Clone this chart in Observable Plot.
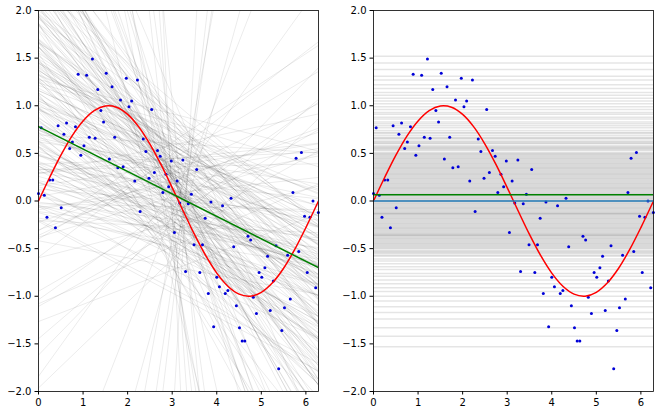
<!DOCTYPE html>
<html><head><meta charset="utf-8">
<script src="https://cdn.jsdelivr.net/npm/d3@7"></script>
<script src="https://cdn.jsdelivr.net/npm/@observablehq/plot@0.6"></script>
<style>
body{margin:0;background:#fff;}
#wrap{display:flex;width:659px;height:415px;overflow:hidden;}
svg{display:block;flex:none;}
</style></head><body><div id="wrap"></div>
<script>
const xs = [0.00,0.06,0.13,0.19,0.25,0.32,0.38,0.44,0.51,0.57,0.63,0.70,0.76,0.83,0.89,0.95,1.02,1.08,1.14,1.21,1.27,1.33,1.40,1.46,1.52,1.59,1.65,1.71,1.78,1.84,1.90,1.97,2.03,2.09,2.16,2.22,2.28,2.35,2.41,2.48,2.54,2.60,2.67,2.73,2.79,2.86,2.92,2.98,3.05,3.11,3.17,3.24,3.30,3.36,3.43,3.49,3.55,3.62,3.68,3.74,3.81,3.87,3.93,4.00,4.06,4.13,4.19,4.25,4.32,4.38,4.44,4.51,4.57,4.63,4.70,4.76,4.82,4.89,4.95,5.01,5.08,5.14,5.20,5.27,5.33,5.39,5.46,5.52,5.59,5.65,5.71,5.78,5.84,5.90,5.97,6.03,6.09,6.16,6.22,6.28];
const ys = [0.08,0.77,0.06,-0.17,0.22,0.22,-0.28,0.79,-0.07,0.70,0.82,0.55,0.62,0.78,1.33,0.48,0.58,1.32,0.67,1.49,0.66,1.17,0.95,0.83,1.34,0.44,1.20,0.67,0.35,1.06,0.36,1.29,0.99,1.05,0.21,1.27,-0.11,0.65,0.52,0.24,0.96,0.30,0.53,0.47,0.09,0.28,0.15,0.42,-0.33,0.21,-0.02,0.43,-0.74,-0.03,0.07,-0.46,0.33,-0.75,-0.46,-0.18,-0.97,-0.01,-1.32,-0.80,-0.90,-0.05,-0.97,-0.94,0.03,-0.48,-1.10,-1.33,-1.47,-1.47,-0.37,-0.41,-1.01,-1.18,-0.75,-0.80,-0.70,-0.58,-1.15,-0.84,-0.47,-1.76,-1.36,-1.12,-0.57,-1.03,0.09,0.45,-0.53,0.51,-0.16,-0.75,-0.17,0.00,-0.91,-0.12];

const sineX = [0,0.25,0.5,0.75,1.0,1.25,1.5,1.75,2.0,2.25,2.5,2.75,3.0,3.25,3.5,3.75,4.0,4.25,4.5,4.75,5.0,5.25,5.5,5.75,6.0,6.283];
const sineY = [0,0.247,0.479,0.682,0.841,0.949,0.997,0.984,0.909,0.778,0.598,0.382,0.141,-0.108,-0.351,-0.572,-0.757,-0.895,-0.978,-0.999,-0.959,-0.859,-0.706,-0.508,-0.279,0.0];

const fitX = [0, 6.283];
const fitY = [0.78, -0.70];
const sampleMean = 0.065;
const trueMean = 0;

const pivotX = 3.14;
const bootSlopes = [-0.24,-0.61,0.12,-0.38,-0.95,-0.05,-0.33,-0.72,0.31,-0.18,
-1.35,-0.44,-0.09,-0.52,0.05,-0.27,-0.83,-0.15,0.22,-0.41,
-0.66,-2.1,-0.30,-0.02,-0.57,-0.21,0.48,-0.36,-1.05,-0.12,
-0.47,-0.78,0.09,-0.26,-0.35,1.2,-0.63,-0.19,-0.90,-0.29,
0.17,-0.55,-0.07,-0.42,-1.6,-0.23,-0.69,0.36,-0.32,-0.14,
-0.50,-3.5,-0.39,0.01,-0.87,-0.25,-0.60,-0.11,0.65,-0.46,
-0.20,-1.18,-0.34,-0.74,0.26,-0.28,-0.04,-0.53,-0.98,-0.16,
2.6,-0.43,-0.31,-0.67,0.14,-0.22,-1.45,-0.58,-0.08,-0.37,
-0.80,0.40,-0.26,-0.49,-0.13,-5.0,-0.64,-0.01,-0.40,-0.92,
0.07,-0.30,-0.56,-0.17,-1.25,-0.45,0.28,-0.71,-0.10,-0.35,
-0.30,-0.15,-0.45,-0.22,-0.60,-0.08,-0.35,0.10,-0.28,-0.50,
-0.19,-0.40,-0.70,-0.26,0.02,-0.33,-0.12,-0.55,-0.24,-0.85,
4.0,-0.31,-0.18,-0.42,0.20,-0.29,-0.65,-0.06,-0.37,-2.8,
-0.21,-0.48,-0.14,-0.34,0.33,-0.27,-0.58,-0.10,-0.39,-1.1,
-0.25,-0.44,3.2,-0.32,-0.16,-0.52,-0.23,-0.76,0.05,-0.36,
-0.20,-0.47,-0.11,-0.30,-6.5,-0.38,-0.17,-0.62,-0.26,0.15,
-0.41,-0.09,-0.33,-0.54,-0.22,-1.9,-0.29,-0.13,-0.46,0.45,
-0.35,-0.19,-0.68,-0.24,-0.03,-0.43,-0.31,-4.2,-0.15,-0.50,
-0.27,0.08,-0.39,-0.21,-0.57,-0.12,-0.34,1.7,-0.28,-0.44,
-0.18,-0.73,-0.25,-0.06,-0.40,-0.32,-1.4,-0.14,-0.49,-0.23,
8.0,-0.37,-0.20,-0.59,0.18,-0.30,-0.11,-0.45,-2.4,-0.26,
-0.16,-0.53,-0.34,0.27,-0.42,-0.21,-0.88,-0.29,-10.0,-0.36];
const bootCenters = [0.07,0.35,-0.22,0.51,-0.05,0.18,-0.41,0.12,0.66,-0.15,
0.02,0.28,-0.33,0.44,0.09,-0.08,0.21,-0.52,0.33,0.01,
0.14,-0.18,0.58,-0.27,0.06,0.39,-0.11,0.25,-0.36,0.10,
0.47,-0.02,0.19,-0.45,0.30,0.04,-0.20,0.72,0.11,-0.30,
0.23,-0.07,0.40,-0.60,0.16,0.03,-0.13,0.54,0.08,-0.24,
0.27,0.05,-0.38,0.36,0.13,-0.04,0.62,-0.16,0.20,-0.48,
0.09,0.31,-0.09,0.45,-0.29,0.15,0.00,0.37,-0.21,0.24,
-0.03,0.50,-0.34,0.17,0.06,-0.12,0.42,0.12,-0.43,0.29,
0.02,-0.19,0.55,0.08,-0.26,0.34,0.14,-0.06,0.22,-0.55,
0.38,0.04,-0.14,0.26,0.11,-0.31,0.48,0.01,-0.10,0.19,
0.55,-0.40,0.20,-0.75,0.85,0.05,-0.25,0.60,-0.55,0.35,
-0.10,0.70,-0.65,0.15,0.45,-0.35,0.90,-0.05,0.30,-0.80,
-0.60,0.40,-0.20,0.65,-0.45,0.10,0.75,-0.30,0.25,-0.90,
0.50,-0.15,0.80,-0.50,0.00,0.60,-0.70,0.35,-0.25,0.95,
-1.00,0.20,-0.40,0.55,-0.10,0.85,-0.60,0.15,0.45,-0.35,
0.70,-0.20,0.30,-0.85,-0.80,0.50,-0.05,0.65,-0.45,0.25,
0.40,-0.70,0.10,0.80,-0.30,-1.10,0.55,-0.15,0.35,-0.55,
0.90,-0.40,0.20,-0.95,0.60,-0.10,0.45,-0.75,0.05,0.75,
-0.25,0.30,-0.65,0.50,0.15,-0.50,0.85,-0.35,0.25,-0.05,
0.65,-0.80,0.40,-0.20,1.00,-0.45,0.10,0.55,-0.60,0.35,
-1.30,0.70,-0.15,0.20,-0.70,0.50,-0.30,0.80,-0.90,0.05,
0.45,-0.40,0.60,-0.10,0.30,-0.55,0.15,0.75,-1.50,-0.25];

const bootMeans = [1.52,1.45,1.38,1.31,1.27,1.22,1.18,1.14,1.11,1.08,1.05,1.02,
0.99,0.96,0.93,0.91,0.88,0.86,0.83,0.81,0.79,0.77,0.74,0.72,0.71,
0.69,0.67,0.65,0.63,0.61,0.60,0.58,0.56,0.55,0.53,0.51,0.50,0.48,0.47,0.45,0.44,0.42,0.41,
0.39,0.38,0.36,0.35,0.34,0.32,0.31,0.30,0.28,0.27,0.26,0.24,0.23,0.22,0.21,0.19,0.18,0.17,0.15,0.14,0.13,0.12,0.11,
0.09,0.08,0.07,0.06,0.05,0.04,0.02,0.01,0.00,-0.01,-0.03,-0.04,-0.05,-0.07,-0.08,-0.09,-0.11,-0.12,-0.14,-0.15,-0.17,-0.18,-0.19,
-0.21,-0.22,-0.24,-0.26,-0.27,-0.29,-0.31,-0.33,-0.34,-0.36,-0.38,-0.40,-0.42,-0.44,-0.46,-0.48,
-0.50,-0.53,-0.55,-0.58,-0.61,-0.63,-0.66,-0.69,-0.72,-0.76,-0.79,
-0.83,-0.87,-0.91,-0.95,-1.00,-1.05,-1.11,-1.17,-1.24,-1.33,-1.42,-1.53,
0.66,0.57,0.49,0.43,0.37,0.33,0.29,0.25,0.20,0.16,0.10,0.03,-0.02,-0.06,-0.10,-0.13,-0.16,-0.20,-0.23,-0.25,
-0.28,-0.30,-0.32,-0.35,-0.37,-0.39,-0.41,-0.43,-0.45,-0.47,-0.49,-0.52,-0.54,-0.57,0.62,0.54,0.46,0.40,-0.36,-0.13];

const xTicks = [0,1,2,3,4,5,6];
const yTicks = [-2.0,-1.5,-1.0,-0.5,0.0,0.5,1.0,1.5,2.0];
const xDomain = [0, 6.283];
const yDomain = [-2, 2];

const points = xs.map((x, i) => ({x, y: ys[i]}));
const sine = sineX.map((x, i) => ({x, y: sineY[i]}));
const fit = fitX.map((x, i) => ({x, y: fitY[i]}));
const bootLines = [];
bootSlopes.forEach((s, i) => {
  const c = bootCenters[i];
  for (const x of xDomain) bootLines.push({id: i, x, y: c + s * (x - pivotX)});
});

function panel(width, ml, mr, marks) {
  return Plot.plot({
    width, height: 415, marginLeft: ml, marginRight: mr, marginTop: 10, marginBottom: 24,
    style: {fontFamily: "DejaVu Sans", fontSize: "10px", color: "#000", background: "#fff", overflow: "visible"},
    x: {domain: xDomain, ticks: xTicks, tickSize: 3.5, tickPadding: 3.5, tickFormat: d3.format("d"), label: null},
    y: {domain: yDomain, ticks: yTicks, tickSize: 3.5, tickPadding: 3.5, tickFormat: d3.format(".1f"), label: null},
    marks: [...marks, Plot.frame({stroke: "#000", strokeWidth: 0.8})]
  });
}

const left = panel(335, 38, 17, [
  Plot.line(bootLines, {x: "x", y: "y", z: "id", stroke: "black", strokeOpacity: 0.08, strokeWidth: 1, clip: true}),
  Plot.dot(points, {x: "x", y: "y", r: 1.5, fill: "#0000d8", stroke: "none"}),
  Plot.line(sine, {x: "x", y: "y", stroke: "#ff0000", strokeWidth: 1.5, curve: "catmull-rom", clip: true}),
  Plot.line(fit, {x: "x", y: "y", stroke: "#008000", strokeWidth: 1.5, clip: true})
]);

const right = panel(324, 38, 6, [
  Plot.ruleY(bootMeans, {stroke: "black", strokeOpacity: 0.1, strokeWidth: 1.5}),
  Plot.dot(points, {x: "x", y: "y", r: 1.5, fill: "#0000d8", stroke: "none"}),
  Plot.line(sine, {x: "x", y: "y", stroke: "#ff0000", strokeWidth: 1.5, curve: "catmull-rom", clip: true}),
  Plot.ruleY([sampleMean], {stroke: "#008000", strokeWidth: 1.5}),
  Plot.ruleY([trueMean], {stroke: "#1f77b4", strokeWidth: 1.5})
]);

document.getElementById("wrap").append(left, right);
</script></body></html>
